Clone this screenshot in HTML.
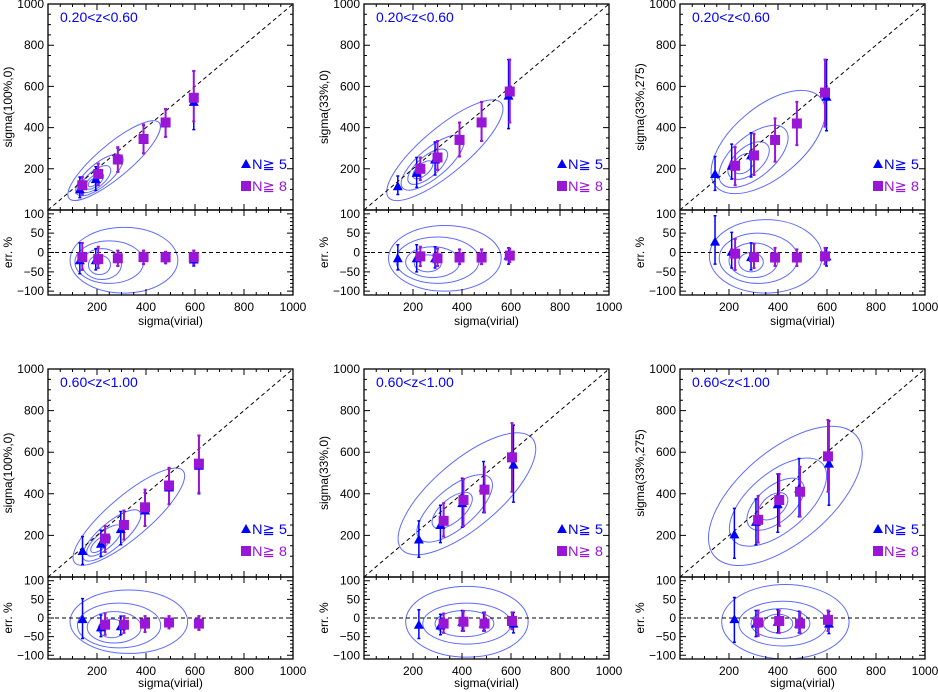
<!DOCTYPE html>
<html><head><meta charset="utf-8">
<style>
html,body{margin:0;padding:0;background:#fff;}
svg{display:block;font-family:"Liberation Sans",sans-serif;}
</style></head>
<body>
<svg id="fig" width="938" height="692" viewBox="0 0 938 692" xmlns="http://www.w3.org/2000/svg"></svg>
<script>
// ---- data (one set of small arrays per panel) ----
const panelTitles = ["0.20<z<0.60","0.20<z<0.60","0.20<z<0.60","0.60<z<1.00","0.60<z<1.00","0.60<z<1.00"];
const yLabels = ["sigma(100%,0)","sigma(33%,0)","sigma(33%,275)","sigma(100%,0)","sigma(33%,0)","sigma(33%,275)"];
const xTicks = [200,400,600,800,1000];
const yTicks = [200,400,600,800,1000];
const errTicks = [100,50,0,-50,-100];

// triangles (N>=5): x, y, lo, hi
const triX = [[130,195,285,390,480,595],[138,215,290,390,480,590],[143,211,290,598],[141,216,297,396,494,616],[224,312,401,488,610],[222,310,399,486,608]];
const triY = [[100,150,240,340,420,525],[115,180,245,340,425,555],[175,215,265,550],[125,160,230,320,430,535],[180,250,355,430,540],[205,265,350,425,545]];
const triLo = [[60,95,185,275,355,390],[75,110,170,260,335,395],[95,150,160,385],[60,100,155,245,350,400],[95,165,240,310,360],[90,155,215,290,345]];
const triHi = [[160,210,300,410,490,675],[165,255,330,425,525,730],[260,320,375,730],[195,225,315,405,520,680],[270,345,475,555,730],[330,375,495,570,750]];
// squares (N>=8)
const sqX = [[140,205,285,390,480,595],[230,300,390,480,595],[225,302,388,477,592],[233,310,396,494,616],[325,406,492,604],[319,405,490,604]];
const sqY = [[120,175,245,345,425,545],[200,255,340,425,575],[215,265,340,420,570],[185,250,335,440,545],[270,370,420,575],[275,370,410,580]];
const sqLo = [[75,120,185,275,355,430],[145,195,260,335,425],[120,170,235,315,405],[120,180,245,350,405],[195,245,310,410],[165,245,290,410]];
const sqHi = [[160,225,305,415,490,675],[255,335,425,525,730],[305,370,445,525,730],[245,320,420,525,680],[355,470,530,740],[390,495,530,755]];
// error panel
const triErr = [[-20,-20,-15,-12,-15,-18],[-15,-15,-15,-13,-13,-8],[28,2,-12,-10],[-3,-25,-22,-15,-12,-15],[-18,-20,-10,-15,-15],[-3,-15,-10,-15,-15]];
const triErrLo = [[-55,-45,-35,-30,-28,-35],[-45,-50,-40,-30,-30,-30],[-30,-40,-45,-35],[-55,-50,-45,-38,-28,-32],[-55,-45,-35,-35,-40],[-65,-50,-40,-40,-42]];
const triErrHi = [[25,10,5,5,0,5],[20,20,15,8,8,12],[95,52,25,12],[52,8,5,5,5,5],[22,10,20,15,15],[55,20,22,18,18]];
const sqErr = [[-12,-17,-15,-12,-12,-12],[-10,-15,-13,-13,-8],[-3,-12,-13,-13,-10],[-18,-18,-15,-12,-15],[-15,-10,-15,-8],[-12,-8,-15,-5]];
const sqErrLo = [[-45,-40,-35,-30,-28,-30],[-35,-35,-30,-30,-25],[-45,-40,-35,-35,-30],[-45,-40,-38,-28,-32],[-40,-35,-35,-30],[-48,-40,-40,-35]];
const sqErrHi = [[25,15,5,5,2,5],[15,10,8,8,10],[35,22,12,8,12],[12,5,5,5,5],[12,18,15,15],[20,20,15,20]];
const sqErrX = [[140,205,285,390,480,595],[230,300,390,480,595],[225,302,388,477,592],[233,310,396,494,616],[325,406,492,604],[319,405,490,604]];

// density contours (cx, cy, along-diagonal semi-axis, perpendicular semi-axis)
const topContours = [
 [[270,240,240,80],[210,170,120,55],[195,150,75,40],[190,140,45,25],[185,135,25,15]],
 [[330,290,300,110],[280,230,160,70],[260,210,100,50],[240,195,50,28]],
 [[360,330,280,170],[300,260,170,100],[280,240,100,65],[260,225,50,40]],
 [[330,290,290,100],[260,200,150,60],[230,175,90,40],[215,160,50,25]],
 [[420,400,350,160],[370,330,190,95],[360,320,100,55]],
 [[430,390,380,220],[400,360,240,140],[390,350,140,85],[380,340,70,50]]
];
const errContours = [
 [[310,-20,220,85],[250,-25,140,55],[220,-30,80,40],[210,-32,45,25]],
 [[330,-15,230,85],[300,-20,170,60],[280,-25,110,40],[260,-28,55,22]],
 [[350,-10,230,95],[320,-15,160,65],[300,-20,100,45],[290,-25,50,25]],
 [[330,-10,240,85],[290,-20,170,60],[270,-25,110,42],[260,-28,55,25]],
 [[420,-10,250,95],[420,-15,180,55],[410,-15,120,35]],
 [[430,-10,260,100],[420,-15,180,60],[410,-15,120,40],[400,-15,60,25]]
];

// ---- layout ----
const colLeft = [48,364,680];
const W = 245;
const rows = [{top:4,split:210,bot:295,xl:325,tl:311},{top:369,split:577,bot:659,xl:687,tl:675}];
const BLUE = "#0000ff", PURP = "#9a16d6", CONT = "#5f6cff";
const NS = "http://www.w3.org/2000/svg";
const svg = document.getElementById('fig');
function mk(tag, attrs, parent){
  const e = document.createElementNS(NS, tag);
  for (const k in attrs) e.setAttribute(k, attrs[k]);
  (parent||svg).appendChild(e);
  return e;
}

for (let p=0;p<6;p++){
  const L = colLeft[p%3], R = L+W, rw = rows[Math.floor(p/3)];
  const sx = v => L + v/1000*W;
  const sy = v => rw.split - v/1000*(rw.split-rw.top);
  const ey = v => (rw.split+rw.bot)/2 - v/110*((rw.bot-rw.split)/2);
  const g = mk('g', {});
  
  

  const cid='ct'+p, eid='ce'+p;
  const cp = mk('clipPath',{id:cid},g); mk('rect',{x:L,y:rw.top,width:W,height:rw.split-rw.top},cp);
  const ce = mk('clipPath',{id:eid},g); mk('rect',{x:L,y:rw.split,width:W,height:rw.bot-rw.split},ce);

  const tc = mk('g',{'clip-path':'url(#'+cid+')',fill:'none',stroke:CONT,'stroke-width':1},g);
  
  
  topContours[p].forEach(c=>{
    const cx=sx(c[0]), cy=sy(c[1]);
    const a=c[2]/1000*W, b=c[3]/1000*(rw.split-rw.top);
    const ang = -Math.atan2(rw.split-rw.top, W)*180/Math.PI;
    const el = mk('ellipse',{cx:cx,cy:cy,rx:a,ry:b,transform:`rotate(${ang} ${cx} ${cy})`},tc);
    
    
  });
  const ec = mk('g',{'clip-path':'url(#'+eid+')',fill:'none',stroke:CONT,'stroke-width':1},g);
  
  
  errContours[p].forEach(c=>{
    const el = mk('ellipse',{cx:sx(c[0]),cy:ey(c[1]),rx:c[2]/1000*W,ry:Math.abs(ey(c[3])-ey(0))},ec);
    
    
  });

  const d1 = mk('line',{x1:L,y1:rw.split,x2:R,y2:rw.top,stroke:'#000','stroke-width':1,'stroke-dasharray':'4,3'},g);
  
  
  const d0 = mk('line',{x1:L,y1:ey(0),x2:R,y2:ey(0),stroke:'#000','stroke-width':1,'stroke-dasharray':'4,3'},g);
  
  

  function tri(x,y,col){
    const t = mk('polygon',{points:`${x-5},${y+4} ${x+5},${y+4} ${x},${y-5}`,fill:col},g);
    
    
  }
  function sq(x,y,col){
    const s = mk('rect',{x:x-5,y:y-5,width:10,height:10,fill:col},g);
    
    
  }
  function bar(x,y1,y2,col,w){
    const b = mk('path',{d:`M${x},${y1}V${y2}M${x-1.5},${y1}h3M${x-1.5},${y2}h3`,stroke:col,'stroke-width':w,fill:'none'},g);
    
    
  }
  triX[p].forEach((v,i)=>{ bar(sx(v),sy(triLo[p][i]),sy(triHi[p][i]),BLUE,1.5); });
  sqX[p].forEach((v,i)=>{ bar(sx(v),sy(sqLo[p][i]),sy(sqHi[p][i]),PURP,2); });
  triX[p].forEach((v,i)=>{ tri(sx(v),sy(triY[p][i]),BLUE); });
  sqX[p].forEach((v,i)=>{ sq(sx(v),sy(sqY[p][i]),PURP); });
  triX[p].forEach((v,i)=>{ bar(sx(v),ey(triErrLo[p][i]),ey(triErrHi[p][i]),BLUE,1.5); });
  sqErrX[p].forEach((v,i)=>{ bar(sx(v),ey(sqErrLo[p][i]),ey(sqErrHi[p][i]),PURP,2); });
  triX[p].forEach((v,i)=>{ tri(sx(v),ey(triErr[p][i]),BLUE); });
  sqErrX[p].forEach((v,i)=>{ sq(sx(v),ey(sqErr[p][i]),PURP); });

  const f1 = mk('rect',{x:L,y:rw.top,width:W,height:rw.split-rw.top,fill:'none',stroke:'#000','stroke-width':1.3},g);
  
  
  const f2 = mk('rect',{x:L,y:rw.split,width:W,height:rw.bot-rw.split,fill:'none',stroke:'#000','stroke-width':1.3},g);
  
  

  let td='';
  for(let v=50; v<1000; v+=50){
    const x=sx(v), len = v%200===0?6:3;
    td+=`M${x},${rw.bot}v${-len}M${x},${rw.split}v${-len}M${x},${rw.split}v${len}M${x},${rw.top}v${len}`;
  }
  for(let v=50; v<1000; v+=50){
    const y=sy(v), len = v%200===0?6:3;
    td+=`M${L},${y}h${len}M${R},${y}h${-len}`;
  }
  for(let v=-100; v<=100; v+=10){
    const y=ey(v), len = v%50===0?6:3;
    td+=`M${L},${y}h${len}M${R},${y}h${-len}`;
  }
  const tk = mk('path',{d:td,stroke:'#000','stroke-width':1,fill:'none'},g);
  
  

  xTicks.forEach(v=>{
    const t = mk('text',{x:sx(v),y:rw.tl,'text-anchor':'middle','font-size':12},g);
    t.textContent = v;
    
    
  });
  yTicks.forEach(v=>{
    const t = mk('text',{x:L-4,y:sy(v)+4,'text-anchor':'end','font-size':12},g);
    t.textContent = v;
    
    
  });
  errTicks.forEach(v=>{
    const t = mk('text',{x:L-4,y:ey(v)+4,'text-anchor':'end','font-size':12},g);
    t.textContent = v===0?'0':(v<0?'\u2212'+(-v):v);
    
    
  });

  const yl = mk('text',{x:0,y:0,'text-anchor':'middle','font-size':12,transform:`translate(${L-36},${(rw.top+rw.split)/2}) rotate(-90)`},g);
  yl.textContent = yLabels[p];
  
  
  const el2 = mk('text',{x:0,y:0,'text-anchor':'middle','font-size':12,transform:`translate(${L-36},${(rw.split+rw.bot)/2}) rotate(-90)`},g);
  el2.textContent = 'err. %';
  
  
  const xl = mk('text',{x:L+W/2,y:rw.xl,'text-anchor':'middle','font-size':12},g);
  xl.textContent = 'sigma(virial)';
  
  

  const tt = mk('text',{x:L+12,y:rw.top+18,'font-size':14,fill:BLUE},g);
  tt.textContent = panelTitles[p];
  
  

  const lx = L+198, ly1 = rw.top+160, ly2 = rw.top+182;
  tri(lx, ly1, BLUE);
  const t1 = mk('text',{x:lx+6,y:ly1+5,'font-size':14,fill:BLUE,textLength:35,lengthAdjust:'spacingAndGlyphs'},g);
  t1.textContent = 'N\u2267 5';
  
  
  sq(lx, ly2, PURP);
  const t2 = mk('text',{x:lx+6,y:ly2+5,'font-size':14,fill:PURP,textLength:35,lengthAdjust:'spacingAndGlyphs'},g);
  t2.textContent = 'N\u2267 8';
  
  
}
</script>
</body></html>
